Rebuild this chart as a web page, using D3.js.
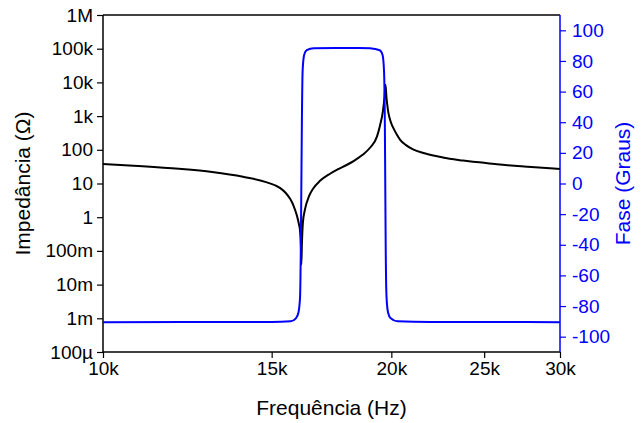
<!DOCTYPE html>
<html>
<head>
<meta charset="utf-8">
<script src="https://cdn.jsdelivr.net/npm/d3@7"></script>
<style>
  body { margin: 0; background: #fff; }
  svg { display: block; font-family: "Liberation Sans", Arial, sans-serif; }
</style>
</head>
<body>
<div id="chart"></div>
<script>
// impedance curve (Hz, ohm)
const zFreq = [10000, 11000, 12000, 13000, 14000, 14830, 15300, 15500, 15680, 15800, 15940, 16020,
  16060, 16090, 16110, 16130, 16170, 16250, 16410, 16570, 16850, 17260, 17600, 17980, 18300, 18680,
  19000, 19320, 19460, 19600, 19670, 19720, 19770, 19800, 19860, 19940, 20020, 20100, 20250,
  20420, 20700, 21070, 21600, 22320, 23000, 23760, 24700, 25780, 28000, 30000];
const zValues = [38, 32.5, 27.2, 21.8, 15.8, 10.8, 7.4, 5.4, 3.5, 2.3, 1.1, 0.6,
  0.38, 0.15, 0.04, 0.15, 0.7, 1.7, 4.2, 7.0, 12.0, 19.5, 26.5, 36, 48, 72,
  115, 245, 520, 1400, 3400, 8500, 3400, 2300, 1250, 780, 560, 440, 295,
  200, 140, 103, 80, 64, 54, 48, 42.5, 37, 31, 27];

// phase curve (Hz, degrees)
const phFreq = [10000, 15000, 15700, 15900, 16000, 16060, 16090, 16110, 16130, 16160, 16220, 16320,
  16600, 17500, 18500, 19000, 19450, 19580, 19650, 19690, 19710, 19730, 19770, 19840, 19970, 20300,
  22000, 30000];
const phValues = [-90.5, -90.4, -90, -88, -84, -74, -40, 0, 40, 74, 84, 87,
  88.3, 88.5, 88.5, 88.3, 87, 84, 74, 40, 0, -40, -74, -84, -88, -90,
  -90.4, -90.5];

const xTicks = [10000, 15000, 20000, 25000, 30000];
const xTickLabels = ['10k', '15k', '20k', '25k', '30k'];
const zTicks = [1e-4, 1e-3, 1e-2, 1e-1, 1, 10, 100, 1e3, 1e4, 1e5, 1e6];
const zTickLabels = ['100\u00b5', '1m', '10m', '100m', '1', '10', '100', '1k', '10k', '100k', '1M'];
const phTicks = [-100, -80, -60, -40, -20, 0, 20, 40, 60, 80, 100];

const width = 642, height = 423;
const margin = { top: 15, right: 82, bottom: 71, left: 103 };
const innerW = width - margin.left - margin.right;
const innerH = height - margin.top - margin.bottom;
const blue = '#0000ff';

const svg = d3.select('#chart').append('svg')
  .attr('width', width)
  .attr('height', height);

const g = svg.append('g')
  .attr('transform', `translate(${margin.left},${margin.top})`);

const x = d3.scaleLog().domain([10000, 30000]).range([0, innerW]);
const yZ = d3.scaleLog().domain([1e-4, 1e6]).range([innerH, 0]);
const yPh = d3.scaleLinear().domain([-110, 110]).range([innerH, 0]);

// minor ticks
const xMinor = d3.range(11000, 30000, 1000).filter(v => v % 5000 !== 0);
const zMinor = [];
for (let e = -4; e < 6; e++) {
  for (let m = 2; m <= 9; m++) zMinor.push(m * Math.pow(10, e));
}
const phMinor = d3.range(-110, 111, 20);

// bottom axis
const xAxis = g.append('g').attr('transform', `translate(0,${innerH})`);
xAxis.call(d3.axisBottom(x).tickValues(xMinor).tickSize(3).tickFormat(''));
xAxis.call(d3.axisBottom(x).tickValues(xTicks).tickSize(6).tickPadding(4)
  .tickFormat((d, i) => xTickLabels[i]));

// left axis
const zAxis = g.append('g');
zAxis.call(d3.axisLeft(yZ).tickValues(zMinor).tickSize(3).tickFormat(''));
zAxis.call(d3.axisLeft(yZ).tickValues(zTicks).tickSize(6).tickPadding(4)
  .tickFormat((d, i) => zTickLabels[i]));

// right axis (phase)
const phAxis = g.append('g').attr('transform', `translate(${innerW},0)`);
phAxis.call(d3.axisRight(yPh).tickValues(phMinor).tickSize(3).tickFormat(''));
phAxis.call(d3.axisRight(yPh).tickValues(phTicks).tickSize(6).tickPadding(6)
  .tickFormat(d => String(d)));

svg.selectAll('.tick line').attr('stroke-width', 1.2);
svg.selectAll('.tick text').attr('font-size', 19).attr('fill', '#000');
xAxis.selectAll('.domain').remove();
zAxis.selectAll('.domain').remove();
phAxis.selectAll('.domain').remove();
phAxis.selectAll('.tick line').attr('stroke', blue);
phAxis.selectAll('.tick text').attr('fill', blue);

// frame lines
g.append('line').attr('x1', 0).attr('x2', innerW).attr('y1', 0).attr('y2', 0)
  .attr('stroke', '#000').attr('stroke-width', 1.5);
g.append('line').attr('x1', 0).attr('x2', innerW).attr('y1', innerH).attr('y2', innerH)
  .attr('stroke', '#000').attr('stroke-width', 1.5);
g.append('line').attr('x1', 0).attr('x2', 0).attr('y1', 0).attr('y2', innerH)
  .attr('stroke', '#000').attr('stroke-width', 1.5);
g.append('line').attr('x1', innerW).attr('x2', innerW).attr('y1', 0).attr('y2', innerH)
  .attr('stroke', blue).attr('stroke-width', 1.5);

// curves
const zLine = d3.line()
  .x((d, i) => x(zFreq[i]))
  .y(d => yZ(d))
  .curve(d3.curveMonotoneX);
const phLine = d3.line()
  .x((d, i) => x(phFreq[i]))
  .y(d => yPh(d))
  .curve(d3.curveMonotoneX);

g.append('path')
  .attr('d', zLine(zValues))
  .attr('fill', 'none')
  .attr('stroke', '#000')
  .attr('stroke-width', 2);

g.append('path')
  .attr('d', phLine(phValues))
  .attr('fill', 'none')
  .attr('stroke', blue)
  .attr('stroke-width', 2);

// titles
svg.append('text')
  .attr('x', margin.left + innerW / 2)
  .attr('y', 415)
  .attr('text-anchor', 'middle')
  .attr('font-size', 21)
  .text('Frequência (Hz)');

svg.append('text')
  .attr('transform', `translate(30,${margin.top + innerH / 2}) rotate(-90)`)
  .attr('text-anchor', 'middle')
  .attr('font-size', 21)
  .text('Impedância (Ω)');

svg.append('text')
  .attr('transform', `translate(630,${margin.top + innerH / 2}) rotate(-90)`)
  .attr('text-anchor', 'middle')
  .attr('font-size', 21)
  .attr('fill', blue)
  .text('Fase (Graus)');
</script>
</body>
</html>
